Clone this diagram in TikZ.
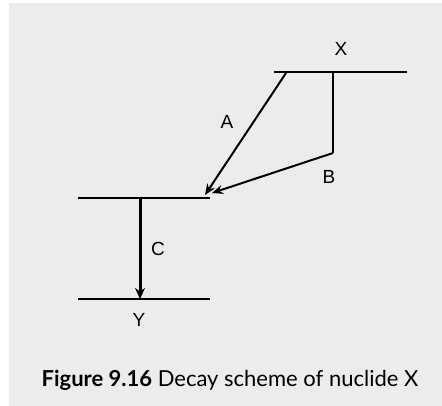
\documentclass[tikz,border=0pt]{standalone}
\usepackage{fontspec}
\setmainfont{Liberation Sans}
\newfontfamily\capfont{Lato}
\usetikzlibrary{arrows.meta}

\begin{document}
\begin{tikzpicture}[x=1pt, y=-1pt,
    % Estilos de niveles, transiciones y etiquetas
    level/.style={line width=2.8pt},
    decay/.style={line width=2pt, -{Stealth[length=11pt, width=9pt]}},
    gamma/.style={line width=3pt, -{Stealth[length=11pt, width=10pt]}},
    lbl/.style={font=\fontsize{19}{21}\selectfont, inner sep=0pt}
]

% ---------------------------------------------------------
% 1. FONDO
% ---------------------------------------------------------
\useasboundingbox (0,0) rectangle (442,406);
\fill[gray!15] (9,3) rectangle (442,406);

% ---------------------------------------------------------
% 2. NIVELES DE ENERGIA
% ---------------------------------------------------------
\coordinate (xl) at (274,72);  \coordinate (xr) at (407,72);
\coordinate (ml) at (78,198);  \coordinate (mr) at (210,198);
\coordinate (yl) at (78,299);  \coordinate (yr) at (210,299);
\draw[level] (xl) -- (xr);
\draw[level] (ml) -- (mr);
\draw[level] (yl) -- (yr);

% ---------------------------------------------------------
% 3. TRANSICIONES
% ---------------------------------------------------------
\coordinate (astart) at (286,73);  \coordinate (aend) at (205,195);
\coordinate (bstart) at (333,73);  \coordinate (bknee) at (333,153);
\coordinate (bend) at (212,193);
\coordinate (cstart) at (140,198); \coordinate (cend) at (140,299);
\draw[decay] (astart) -- (aend);
\draw[line width=2pt] (bstart) -- (bknee);
\draw[decay] (bknee) -- (bend);
\draw[gamma] (cstart) -- (cend);

% ---------------------------------------------------------
% 4. ETIQUETAS
% ---------------------------------------------------------
\node[lbl] (labX) at (341,49) {X};
\node[lbl] (labA) at (227,122) {A};
\node[lbl] (labB) at (329,177) {B};
\node[lbl] (labC) at (158,249) {C};
\node[lbl] (labY) at (139,320) {Y};

\node[font=\capfont\fontsize{22}{25}\selectfont, inner sep=0pt] (caption) at (230,380)
  {\textbf{Figure 9.16} Decay scheme of nuclide X};

\end{tikzpicture}
\end{document}
